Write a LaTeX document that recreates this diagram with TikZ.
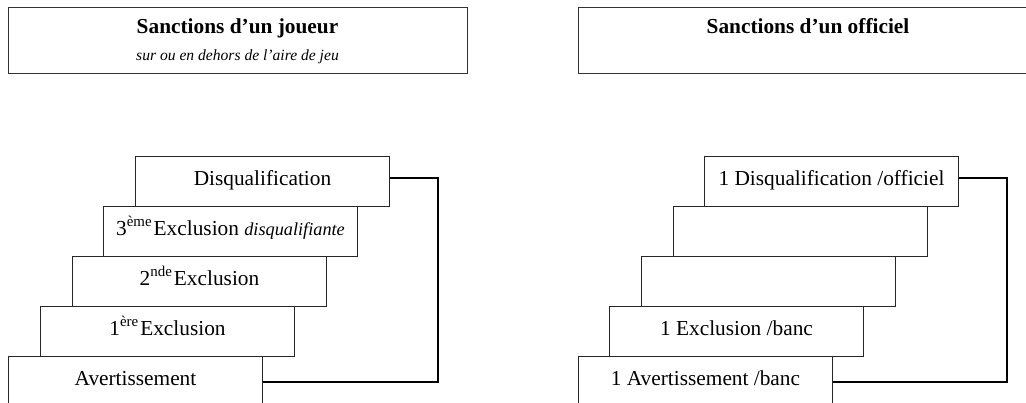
\documentclass[tikz,border=0pt]{standalone}
\usepackage{fontspec}
\setmainfont{Liberation Serif}
\begin{document}
\begin{tikzpicture}[x=0.75pt,y=-0.75pt,
  stair/.style={draw=black!85,line width=0.75pt,minimum width=190.5pt,minimum height=37.5pt,inner sep=0pt,text height=9pt,text depth=3.5pt,anchor=north west,font=\fontsize{16}{19}\selectfont},
  titlebox/.style={draw=black!80,line width=0.9pt,minimum width=344.25pt,minimum height=49.5pt,inner sep=0pt,anchor=north west},
  titletext/.style={anchor=base,inner sep=0pt,font=\bfseries\fontsize{16}{19}\selectfont},
  subtext/.style={anchor=base,inner sep=0pt,font=\itshape\fontsize{11.7}{14}\selectfont},
  link/.style={line width=1.5pt}]
\clip (0,0) rectangle (1026,403);
\useasboundingbox (0,0) rectangle (1026,403);
% titles
\node[titlebox] (lt) at (8,7) {};
\node[titletext] (ltt) at (237.5,34) {Sanctions d’un joueur};
\node[subtext] (lts) at (237.5,61) {sur ou en dehors de l’aire de jeu};
\node[titlebox] (rt) at (578,7) {};
\node[titletext] (rtt) at (808,34) {Sanctions d’un officiel};
% left stairs
\node[stair] (ldq) at (135,156) {Disqualification};
\node[stair] (l3) at (103,206) {3\textsuperscript{ème}\kern1pt Exclusion {\itshape\fontsize{13.7}{16}\selectfont disqualifiante}};
\node[stair] (l2) at (72,256) {2\textsuperscript{nde}\kern1pt Exclusion};
\node[stair] (l1) at (40,306) {1\textsuperscript{ère}\kern1pt Exclusion};
\node[stair] (lav) at (8,356) {Avertissement};
% right stairs
\node[stair] (rdq) at (704,156) {1 Disqualification /officiel};
\node[stair] (r3) at (673,206) {};
\node[stair] (r2) at (641,256) {};
\node[stair] (r1) at (609,306) {1 Exclusion /banc};
\node[stair] (rav) at (578,356) {1 Avertissement /banc};
% connectors
\draw[link] ([yshift=2.25pt]ldq.east) -- ++(48,0) |- (lav.east);
\draw[link] ([yshift=2.25pt]rdq.east) -- ++(48,0) |- (rav.east);
\end{tikzpicture}
\end{document}
